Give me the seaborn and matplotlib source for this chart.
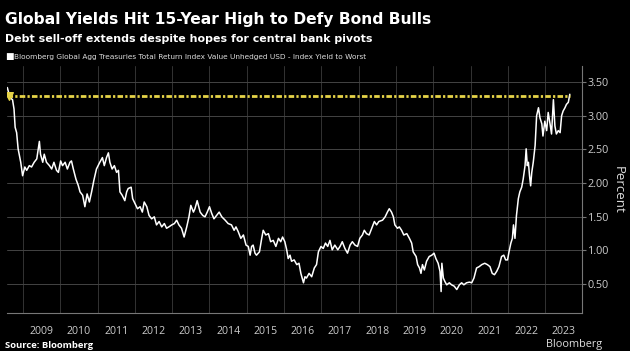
import seaborn as sns
import matplotlib.pyplot as plt
import pandas as pd
import numpy as np

# decimal year of each reading
t = [2008.58, 2008.65, 2008.72, 2008.76, 2008.79, 2008.83, 2008.87, 2008.94, 2008.99,
     2009.05, 2009.10, 2009.17, 2009.23, 2009.30, 2009.37, 2009.44, 2009.47, 2009.53,
     2009.57, 2009.63, 2009.71, 2009.77, 2009.83, 2009.90, 2009.95,
     2010.01, 2010.06, 2010.13, 2010.19, 2010.26, 2010.30, 2010.35, 2010.42, 2010.48,
     2010.53, 2010.60, 2010.66, 2010.72, 2010.78, 2010.84, 2010.90, 2010.97,
     2011.06, 2011.13, 2011.18, 2011.24, 2011.29, 2011.33, 2011.39, 2011.45, 2011.51,
     2011.56, 2011.60, 2011.66, 2011.73, 2011.78, 2011.82, 2011.90, 2011.94,
     2012.00, 2012.07, 2012.14, 2012.20, 2012.25, 2012.32, 2012.38, 2012.45, 2012.52,
     2012.58, 2012.65, 2012.72, 2012.79, 2012.85, 2012.91, 2012.99,
     2013.06, 2013.12, 2013.18, 2013.25, 2013.32, 2013.39, 2013.45, 2013.50, 2013.57,
     2013.61, 2013.67, 2013.75, 2013.82, 2013.88, 2013.94,
     2014.00, 2014.06, 2014.12, 2014.19, 2014.26, 2014.33, 2014.42, 2014.50, 2014.59,
     2014.66, 2014.71, 2014.77, 2014.84, 2014.91, 2014.98,
     2015.04, 2015.09, 2015.13, 2015.17, 2015.22, 2015.26, 2015.34, 2015.40, 2015.44,
     2015.51, 2015.58, 2015.64, 2015.71, 2015.78, 2015.85, 2015.91, 2015.96,
     2016.02, 2016.07, 2016.11, 2016.16, 2016.20, 2016.27, 2016.34, 2016.40, 2016.45,
     2016.52, 2016.56, 2016.60, 2016.67, 2016.74, 2016.81, 2016.87, 2016.92, 2016.99,
     2017.05, 2017.11, 2017.17, 2017.23, 2017.29, 2017.36, 2017.44, 2017.50, 2017.56,
     2017.63, 2017.70, 2017.77, 2017.83, 2017.90, 2017.97,
     2018.03, 2018.10, 2018.15, 2018.21, 2018.28, 2018.35, 2018.42, 2018.48, 2018.54,
     2018.64, 2018.71, 2018.77, 2018.82, 2018.88, 2018.93, 2018.97,
     2019.04, 2019.09, 2019.15, 2019.21, 2019.29, 2019.36, 2019.42, 2019.46, 2019.54,
     2019.58, 2019.63, 2019.67, 2019.71, 2019.76, 2019.82, 2019.89, 2019.96,
     2020.02, 2020.07, 2020.13, 2020.18, 2020.21, 2020.23, 2020.27, 2020.31, 2020.36,
     2020.43, 2020.49, 2020.56, 2020.63, 2020.70, 2020.76, 2020.82, 2020.89, 2020.97,
     2021.03, 2021.09, 2021.16, 2021.23, 2021.30, 2021.38, 2021.45, 2021.52, 2021.58,
     2021.64, 2021.70, 2021.76, 2021.83, 2021.89, 2021.94, 2021.99,
     2022.03, 2022.08, 2022.12, 2022.15, 2022.19, 2022.23, 2022.28, 2022.32, 2022.37,
     2022.41, 2022.46, 2022.49, 2022.52, 2022.55, 2022.58, 2022.61, 2022.64, 2022.68,
     2022.73, 2022.77, 2022.82, 2022.86, 2022.91, 2022.94, 2022.99,
     2023.04, 2023.08, 2023.13, 2023.17, 2023.22, 2023.26, 2023.30, 2023.35, 2023.40,
     2023.44, 2023.48, 2023.53, 2023.57, 2023.62, 2023.66]

# index yield to worst, percent
yld = [3.42, 3.27, 3.24, 3.10, 2.83, 2.75, 2.51, 2.31, 2.11,
       2.24, 2.19, 2.26, 2.24, 2.31, 2.36, 2.62, 2.43, 2.31,
       2.43, 2.31, 2.26, 2.21, 2.31, 2.19, 2.16,
       2.33, 2.26, 2.31, 2.21, 2.31, 2.33, 2.21, 2.06, 1.97,
       1.87, 1.82, 1.65, 1.84, 1.72, 1.87, 2.04, 2.21,
       2.31, 2.38, 2.26, 2.38, 2.45, 2.31, 2.21, 2.26, 2.16,
       2.19, 1.87, 1.82, 1.74, 1.87, 1.92, 1.94, 1.77,
       1.70, 1.62, 1.65, 1.57, 1.72, 1.65, 1.52, 1.47, 1.50,
       1.38, 1.43, 1.35, 1.40, 1.33, 1.35, 1.38,
       1.40, 1.45, 1.38, 1.33, 1.20, 1.35, 1.50, 1.67, 1.57,
       1.62, 1.74, 1.57, 1.52, 1.50, 1.57,
       1.65, 1.55, 1.47, 1.52, 1.57, 1.50, 1.45, 1.40, 1.38,
       1.30, 1.35, 1.28, 1.18, 1.23, 1.08,
       1.06, 0.93, 1.06, 1.08, 0.96, 0.93, 0.98, 1.18, 1.30,
       1.23, 1.25, 1.13, 1.15, 1.06, 1.18, 1.13, 1.20,
       1.13, 1.01, 0.88, 0.93, 0.84, 0.86, 0.79, 0.81, 0.66,
       0.52, 0.61, 0.59, 0.66, 0.61, 0.74, 0.79, 0.98, 1.06,
       1.03, 1.11, 1.06, 1.15, 1.01, 1.08, 1.01, 1.06, 1.13,
       1.03, 0.96, 1.08, 1.13, 1.08, 1.06,
       1.18, 1.23, 1.30, 1.25, 1.23, 1.33, 1.43, 1.38, 1.43,
       1.45, 1.50, 1.57, 1.62, 1.57, 1.50, 1.38,
       1.33, 1.35, 1.30, 1.23, 1.25, 1.18, 1.11, 0.98, 0.91,
       0.79, 0.74, 0.66, 0.79, 0.71, 0.84, 0.91, 0.93,
       0.96, 0.88, 0.81, 0.69, 0.39, 0.81, 0.59, 0.54, 0.49,
       0.52, 0.49, 0.47, 0.42, 0.49, 0.52, 0.49, 0.52, 0.53,
       0.52, 0.59, 0.74, 0.76, 0.79, 0.81, 0.79, 0.76, 0.66,
       0.64, 0.69, 0.76, 0.91, 0.93, 0.86, 0.86,
       0.98, 1.11, 1.18, 1.38, 1.18, 1.52, 1.77, 1.87, 1.94,
       2.06, 2.26, 2.51, 2.26, 2.31, 2.11, 1.96, 2.16, 2.31,
       2.56, 3.00, 3.12, 2.97, 2.88, 2.70, 2.92,
       2.78, 3.05, 2.88, 2.73, 3.24, 2.85, 2.73, 2.78, 2.75,
       3.00, 3.07, 3.12, 3.17, 3.20, 3.32]

peak_level = 3.30
years = list(range(2009, 2024))
y_ticks = [0.5, 1.0, 1.5, 2.0, 2.5, 3.0, 3.5]

df = pd.DataFrame({'t': t, 'yield': yld})

sns.set_theme(style='dark', rc={'axes.facecolor': 'black',
                                'figure.facecolor': 'black',
                                'text.color': 'white',
                                'axes.labelcolor': '#dddddd',
                                'xtick.color': '#cccccc',
                                'ytick.color': '#cccccc'})
plt.rcParams['font.family'] = ['Open Sans', 'DejaVu Sans']
narrow = ['Liberation Sans Narrow', 'DejaVu Sans']

fig = plt.figure(figsize=(6.3, 3.51), dpi=100)
ax = fig.add_axes([0.011, 0.108, 0.913, 0.704])

sns.lineplot(data=df, x='t', y='yield', color='white', linewidth=1.1, ax=ax)
ax.plot([t[0], t[-1]], [peak_level, peak_level], color='#e6d348',
        linewidth=2, linestyle=(0, (2, 0.8, 0.8, 0.8)), zorder=3)
ax.scatter([t[0] + 0.05], [peak_level], marker='v', s=30, color='#e6d348', zorder=4)

ax.set_xlim(2008.57, 2023.99)
ax.set_ylim(0.07, 3.74)

# year boundaries carry the long ticks, mid-year carries the label
ax.set_xticks(years)
ax.set_xticklabels([])
ax.set_xticks([y + 0.5 for y in years], [str(y) for y in years], minor=True)
ax.tick_params(axis='x', which='major', length=19, width=0.8, color='#777777')
ax.tick_params(axis='x', which='minor', length=0, pad=9, labelsize=7.6)

ax.yaxis.tick_right()
ax.yaxis.set_label_position('right')
ax.set_yticks(y_ticks, [f'{v:.2f}' for v in y_ticks])
ax.tick_params(axis='y', length=3, width=0.8, color='#777777', pad=1, labelsize=7.8)
ax.set_ylabel('Percent', rotation=270, labelpad=11, fontsize=9.5)
ax.set_xlabel('')

ax.grid(True, which='major', axis='y', color='#444444', linewidth=0.7)
ax.grid(True, which='major', axis='x', color='#333333', linewidth=0.7)
for side in ['top', 'left']:
    ax.spines[side].set_visible(False)
for side in ['right', 'bottom']:
    ax.spines[side].set_color('#777777')
    ax.spines[side].set_linewidth(0.8)

fig.text(0.008, 0.945, 'Global Yields Hit 15-Year High to Defy Bond Bulls',
         family=narrow, fontsize=11.2, weight='bold', color='white', va='center')
fig.text(0.008, 0.888, 'Debt sell-off extends despite hopes for central bank pivots',
         family=narrow, fontsize=7.9, weight='bold', color='white', va='center')
fig.text(0.008, 0.838, '\u25a0', fontsize=6.5, color='white', va='center')
fig.text(0.022, 0.838,
         'Bloomberg Global Agg Treasuries Total Return Index Value Unhedged USD - Index Yield to Worst',
         family=narrow, fontsize=5.3, color='#dddddd', va='center')
fig.text(0.008, 0.004, 'Source: Bloomberg', fontsize=6.8, weight='bold',
         color='white', va='bottom')
fig.text(0.955, 0.004, 'Bloomberg', fontsize=7.8, color='#dddddd',
         va='bottom', ha='right')

fig.savefig('out.png', dpi=100, facecolor='black')
